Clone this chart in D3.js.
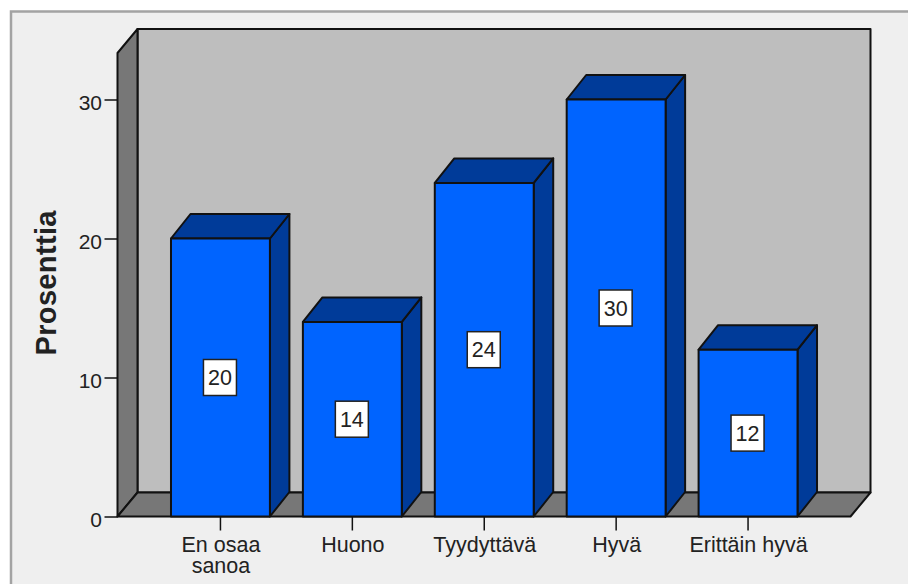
<!DOCTYPE html>
<html>
<head>
<meta charset="utf-8">
<script src="https://cdn.jsdelivr.net/npm/d3@7/dist/d3.min.js"></script>
<style>
  html, body { margin: 0; padding: 0; background: #fff; }
  svg { display: block; }
  text { font-family: "Liberation Sans", Arial, sans-serif; fill: #222; }
</style>
</head>
<body>
<svg id="chart" width="908" height="584"></svg>
<script>
// Survey answers and their share in percent
const categories = ["En osaa sanoa", "Huono", "Tyydyttävä", "Hyvä", "Erittäin hyvä"];
const percentages = [20, 14, 24, 30, 12];
const percentTicks = [0, 10, 20, 30];
const yTitle = "Prosenttia";

const width = 908, height = 584;
const svg = d3.select("#chart");

// Box front plane and the oblique offset of the back plane
const front = { left: 117.5, right: 850.5, bottom: 516.5, top: 53 };
const depth = { dx: 20, dy: -24 };
const barDepth = { dx: 19.5, dy: -24.5 };

const x = d3.scaleBand().domain(categories).range([154.5, 814]).paddingInner(0.25).paddingOuter(0.125);
const y = d3.scaleLinear().domain([0, 30]).range([front.bottom, 99.5]);

const ink = "#111";
const poly = (pts, fill, sw = 2) => svg.append("polygon")
  .attr("points", pts.map(p => p.join(",")).join(" "))
  .attr("fill", fill).attr("stroke", ink).attr("stroke-width", sw).attr("stroke-linejoin", "round");

// Outer frame, running off the right and bottom of the page
svg.append("rect").attr("x", 11).attr("y", 11.5).attr("width", width + 20).attr("height", height + 20)
  .attr("fill", "#efefef").attr("stroke", "#a3a3a3").attr("stroke-width", 2.5);

// Back wall, side wall and floor of the box
const backL = front.left + depth.dx, backB = front.bottom + depth.dy;
const backR = front.right + depth.dx, backT = front.top + depth.dy;
poly([[backL, backT], [backR, backT], [backR, backB], [backL, backB]], "#bebebe");
poly([[front.left, front.top], [backL, backT], [backL, backB], [front.left, front.bottom]], "#777777");
poly([[front.left, front.bottom], [backL, backB], [backR, backB], [front.right, front.bottom]], "#777777");

// Value axis ticks and labels
const yAxis = svg.append("g").attr("transform", `translate(${front.left},0)`)
  .call(d3.axisLeft(y).tickValues(percentTicks).tickSize(13).tickPadding(2.5).tickFormat(d3.format("d")));
yAxis.select(".domain").remove();
yAxis.selectAll(".tick line").attr("stroke", ink).attr("stroke-width", 1.5);
yAxis.selectAll(".tick text")
  .attr("font-size", 21).attr("dy", 9.5)
  .style("font-family", '"Liberation Sans"').attr("fill", "#222");

// Axis title
svg.append("text").attr("transform", "translate(56,283) rotate(-90)")
  .attr("text-anchor", "middle").attr("font-size", 29).attr("font-weight", "bold")
  .attr("textLength", 145).attr("fill", "#111").text(yTitle);

// Category axis ticks and wrapped labels, one text element per category
const wrapped = { "En osaa sanoa": ["En osaa", "sanoa"] };
const xAxis = svg.append("g").attr("transform", `translate(0,${front.bottom})`)
  .call(d3.axisBottom(x).tickSize(14).tickFormat(""));
xAxis.select(".domain").remove();
xAxis.selectAll(".tick line").attr("stroke", ink).attr("stroke-width", 1.5);
categories.forEach(c => {
  const cx = x(c) + x.bandwidth() / 2 + 0.5;
  const label = svg.append("text").attr("x", cx).attr("y", 551.5)
    .attr("text-anchor", "middle").attr("font-size", 21.5);
  (wrapped[c] || [c]).forEach((line, i) => {
    label.append("tspan").attr("x", cx).attr("dy", i ? 21.5 : 0).text(line);
  });
});

// Bars: side face, top face, then front face
categories.forEach((c, i) => {
  const v = percentages[i];
  const l = x(c), r = l + x.bandwidth(), t = y(v), b = y(0);
  const dx = barDepth.dx, dy = barDepth.dy;
  poly([[r, t], [r + dx, t + dy], [r + dx, b + dy], [r, b]], "#003b99");
  poly([[l, t], [l + dx, t + dy], [r + dx, t + dy], [r, t]], "#003b99");
  poly([[l, t], [r, t], [r, b], [l, b]], "#0064ff");
});

// Value tags centred on each bar
categories.forEach((c, i) => {
  const v = percentages[i];
  const cx = x(c) + x.bandwidth() / 2 - 0.5, cy = y(v / 2);
  svg.append("rect").attr("x", cx - 16.5).attr("y", cy - 18).attr("width", 33).attr("height", 36)
    .attr("fill", "#fff").attr("stroke", "#222").attr("stroke-width", 1.5);
  svg.append("text").attr("x", cx).attr("y", cy + 7.5).attr("text-anchor", "middle")
    .attr("font-size", 21.5).attr("fill", "#111").text(v);
});
</script>
</body>
</html>
